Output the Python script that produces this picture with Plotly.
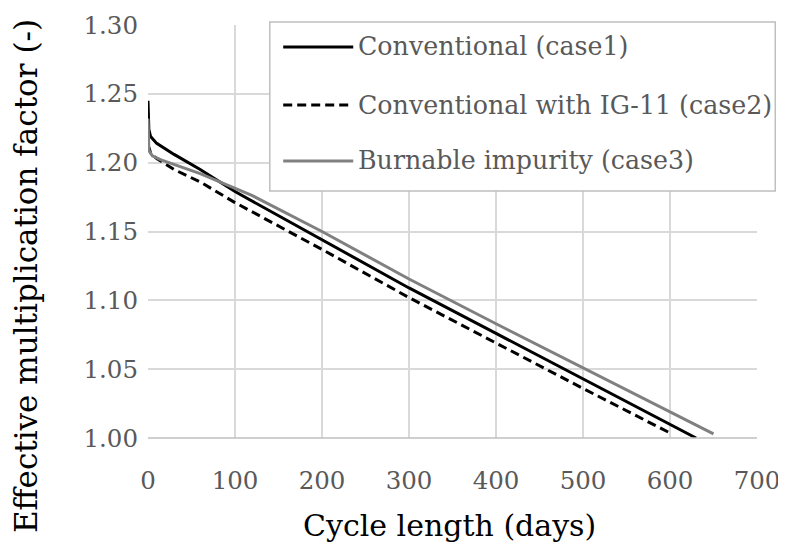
import plotly.graph_objects as go

# Data
case1_x = [0, 0.5, 1, 3, 10, 30, 60, 100, 200, 300, 400, 500, 630]
case1_y = [1.245, 1.235, 1.224, 1.219, 1.214, 1.206, 1.195, 1.179, 1.144, 1.109, 1.076, 1.043, 1.000]

case2_x = [0, 3, 10, 30, 60, 100, 200, 300, 400, 500, 602]
case2_y = [1.213, 1.207, 1.203, 1.195, 1.186, 1.171, 1.137, 1.102, 1.069, 1.036, 1.003]

case3_x = [0, 0.5, 1, 5, 15, 60, 100, 120, 200, 300, 400, 500, 650]
case3_y = [1.232, 1.215, 1.209, 1.205, 1.202, 1.192, 1.181, 1.176, 1.150, 1.1155, 1.083, 1.051, 1.003]

names = ["Conventional (case1)", "Conventional with IG-11 (case2)", "Burnable impurity (case3)"]
colors = ["#000000", "#000000", "#808080"]
dashes = ["solid", "9px,5px", "solid"]

x_ticks = [0, 100, 200, 300, 400, 500, 600, 700]
y_ticks = [1.00, 1.05, 1.10, 1.15, 1.20, 1.25, 1.30]
x_title = "Cycle length (days)"
y_title = "Effective multiplication factor (-)"

SERIF = "DejaVu Serif"

fig = go.Figure()
for xs, ys, n, c, d in zip([case1_x, case2_x, case3_x], [case1_y, case2_y, case3_y], names, colors, dashes):
    fig.add_trace(go.Scatter(x=xs, y=ys, mode="lines", name=n, showlegend=False,
                             line=dict(color=c, width=3, dash=d)))

# custom legend
lx0, lx1 = 0.20, 1.03
ly_top, ly_bot = 1.007, 0.598
shapes = [dict(type="rect", xref="paper", yref="paper", x0=lx0, x1=lx1, y0=ly_bot, y1=ly_top,
               line=dict(color="#bfbfbf", width=1.5), fillcolor="white", layer="above")]
annotations = []
entry_y = [0.947, 0.806, 0.671]
for n, c, d, ey in zip(names, colors, dashes, entry_y):
    shapes.append(dict(type="line", xref="paper", yref="paper", x0=0.222, x1=0.337, y0=ey, y1=ey,
                       line=dict(color=c, width=3, dash=d), layer="above"))
    annotations.append(dict(xref="paper", yref="paper", x=0.342, y=ey, text=n, showarrow=False,
                            xanchor="left", yanchor="middle",
                            font=dict(family=SERIF, size=25.3, color="#595959")))

# axis titles
annotations.append(dict(xref="paper", yref="paper", x=0.495, y=-0.211, text=x_title, showarrow=False,
                        xanchor="center", yanchor="middle",
                        font=dict(family=SERIF, size=30, color="#000000")))
annotations.append(dict(xref="paper", yref="paper", x=-0.2003, y=0.392, text=y_title, showarrow=False,
                        xanchor="center", yanchor="middle", textangle=-90,
                        font=dict(family=SERIF, size=31, color="#000000")))

fig.update_layout(
    width=778, height=546,
    margin=dict(l=140, r=29, t=17, b=116),
    paper_bgcolor="white", plot_bgcolor="white",
    shapes=shapes, annotations=annotations,
    xaxis=dict(range=[0, 700], tickvals=x_ticks, showgrid=True, gridcolor="#d9d9d9", gridwidth=1.5,
               zeroline=False, showline=False, ticks="", ticklabelstandoff=25, automargin=False,
               tickfont=dict(family=SERIF, size=24.5, color="#595959")),
    yaxis=dict(range=[1.00, 1.30], tickvals=y_ticks, tickformat=".2f", showgrid=True, gridcolor="#d9d9d9",
               gridwidth=1.5, zeroline=False, showline=False, ticks="", ticklabelstandoff=9,
               automargin=False,
               tickfont=dict(family=SERIF, size=24.5, color="#595959")),
)
fig.add_shape(type="line", xref="paper", yref="paper", x0=0, x1=1, y0=0, y1=0,
              line=dict(color="#bfbfbf", width=1.5))

fig.write_html("out.html")
